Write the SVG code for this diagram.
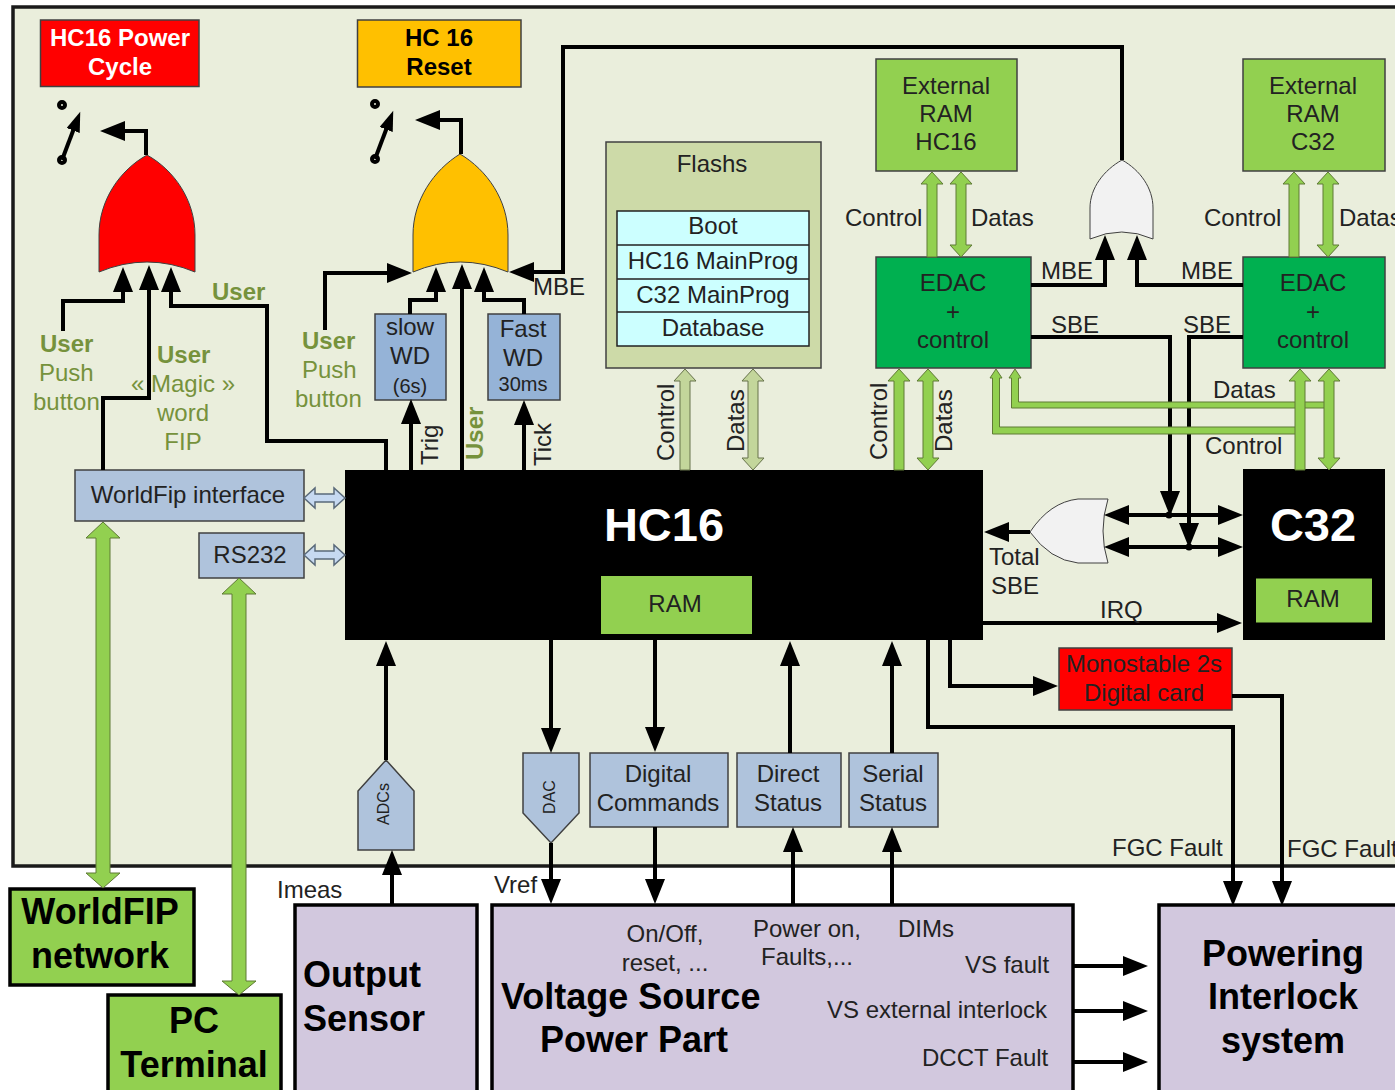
<svg xmlns="http://www.w3.org/2000/svg" width="1395" height="1090" viewBox="0 0 1395 1090">
<style>
text{font-family:"Liberation Sans",Arial,sans-serif;font-size:24px;fill:#222}
.m{text-anchor:middle}
.b{font-weight:bold;fill:#000}
.big{font-size:36px}
.huge{font-size:47px;fill:#fff}
.wb{font-weight:bold;fill:#fff}
.ol{fill:#76923c}
.olb{fill:#76923c;font-weight:bold}
.sm{font-size:20px}
.xs{font-size:16px}
.n{stroke:#404040;stroke-width:1.5}
.g{stroke:#404040;stroke-width:1}
.blue{fill:#afc3dc}
.wd{fill:#95b3d7}
.green{fill:#92d050}
.lil{fill:#d2c8de;stroke:#000;stroke-width:3.5}
.w{fill:none;stroke:#000;stroke-width:4}
.pin{fill:none;stroke:#000;stroke-width:4}
.bus{fill:#92d050;stroke:#5f7a35;stroke-width:1}
.obus{fill:#c3d69b;stroke:#66724a;stroke-width:1}
.sbus{fill:#c6d9f1;stroke:#5a6a7a;stroke-width:1.5}
</style>
<defs>
<marker id="a" markerUnits="userSpaceOnUse" markerWidth="26" markerHeight="20" refX="16" refY="10" orient="auto-start-reverse"><path d="M0,0L25,10L0,20Z" fill="#000"/></marker>
<marker id="s" markerUnits="userSpaceOnUse" markerWidth="21" markerHeight="14" refX="8" refY="7" orient="auto"><path d="M0,0L20,7L0,14Z" fill="#000"/></marker>
</defs>
<rect width="1395" height="1090" fill="#fff"/>
<g id="panel"><rect x="13" y="7" width="1400" height="859" fill="#eaeedc" stroke="#1a1a1a" stroke-width="3.5"/></g>

<g id="power-cycle"><rect class="n" x="40.500" y="20" width="158.500" height="66.500" fill="#f00"/><text class="m wb" x="120" y="46">HC16 Power</text><text class="m wb" x="120" y="75">Cycle</text></g>
<g id="reset"><rect class="n" x="357.500" y="20" width="163.500" height="67" fill="#ffc000"/><text class="m b" x="439" y="46">HC 16</text><text class="m b" x="439" y="75">Reset</text></g>
<g id="switch-1"><circle class="pin" cx="62" cy="105" r="3"/><circle class="pin" cx="62" cy="160" r="3"/><path d="M62,160L76,123" class="w" marker-end="url(#s)"/></g>
<g id="switch-2"><circle class="pin" cx="375" cy="104" r="3"/><circle class="pin" cx="375" cy="159" r="3"/><path d="M375,159L389,122" class="w" marker-end="url(#s)"/></g>
<g id="gate-power"><path class="g" d="M147,155C120,170 99,200 99,235L99,272Q147,252 195,272L195,235C195,200 174,170 147,155Z" fill="#f00"/></g>
<g id="gate-reset"><path class="g" d="M460,154C434,170 413,200 413,235L413,272Q460,252 508,272L508,235C508,200 487,170 460,154Z" fill="#ffc000"/></g>
<g id="gate-mbe"><path class="g" d="M1122,160C1104,170 1090,188 1090,208L1090,239Q1122,225 1153,239L1153,208C1153,188 1140,170 1122,160Z" fill="#f2f2f2"/></g>
<g id="gate-sbe"><path class="g" d="M1030,532Q1050,502 1078,499L1108,499Q1098,531 1108,563L1078,563Q1050,560 1030,532Z" fill="#f2f2f2"/></g>
<g id="slow-wd"><rect class="n wd" x="375" y="314" width="71" height="86"/><text class="m" x="410" y="335">slow</text><text class="m" x="410" y="364">WD</text><text class="m sm" x="410" y="393">(6s)</text></g>
<g id="fast-wd"><rect class="n wd" x="488" y="314" width="72" height="86"/><text class="m" x="523" y="337">Fast</text><text class="m" x="523" y="366">WD</text><text class="m sm" x="523" y="391">30ms</text></g>
<g id="flashs"><rect class="n" x="606" y="142" width="215" height="226" fill="#cddaa8"/><text class="m" x="712" y="172">Flashs</text>
<rect x="617" y="211" width="192" height="135" fill="#cff" stroke="#222" stroke-width="1.500"/><path d="M617,245H809M617,279H809M617,312H809" stroke="#222" stroke-width="1.500"/>
<text class="m" x="713" y="234">Boot</text><text class="m" x="713" y="269">HC16 MainProg</text><text class="m" x="713" y="303">C32 MainProg</text><text class="m" x="713" y="336">Database</text></g>
<g id="ext-ram-hc16"><rect class="n green" x="876" y="59" width="141" height="112"/><text class="m" x="946" y="94">External</text><text class="m" x="946" y="122">RAM</text><text class="m" x="946" y="150">HC16</text></g>
<g id="ext-ram-c32"><rect class="n green" x="1243" y="59" width="142" height="112"/><text class="m" x="1313" y="94">External</text><text class="m" x="1313" y="122">RAM</text><text class="m" x="1313" y="150">C32</text></g>
<g id="edac-hc16"><rect class="n" x="876" y="257" width="155" height="111" fill="#00b050"/><text class="m" x="953" y="291">EDAC</text><text class="m" x="953" y="320">+</text><text class="m" x="953" y="348">control</text></g>
<g id="edac-c32"><rect class="n" x="1243" y="257" width="142" height="111" fill="#00b050"/><text class="m" x="1313" y="291">EDAC</text><text class="m" x="1313" y="320">+</text><text class="m" x="1313" y="348">control</text></g>
<g id="hc16"><rect x="345" y="470" width="638" height="170" fill="#000"/><text class="m huge b" style="fill:#fff" x="664" y="541">HC16</text><rect x="601" y="576" width="151" height="58" fill="#92d050"/><text class="m" x="675" y="612">RAM</text></g>
<g id="c32"><rect x="1243" y="469" width="142" height="171" fill="#000"/><text class="m huge b" style="fill:#fff" x="1313" y="541">C32</text><rect x="1256" y="578.500" width="116" height="44" fill="#92d050"/><text class="m" x="1313" y="607">RAM</text></g>
<g id="worldfip-interface"><rect class="n blue" x="75" y="470" width="229" height="51"/><text class="m" x="188" y="503">WorldFip interface</text></g>
<g id="rs232"><rect class="n blue" x="199" y="533" width="105" height="45"/><text class="m" x="250" y="563">RS232</text></g>
<g id="monostable"><rect class="n" x="1059" y="648" width="173" height="62" fill="#f00"/><text class="m" x="1144" y="672">Monostable 2s</text><text class="m" x="1144" y="701">Digital card</text></g>
<g id="adcs"><path class="n blue" d="M386,760L414,791V850H358V791Z"/><text class="m xs" transform="translate(389,804) rotate(-90)">ADCs</text></g>
<g id="dac"><path class="n blue" d="M523,753H579V813L551,843L523,813Z"/><text class="m xs" transform="translate(555,797) rotate(-90)">DAC</text></g>
<g id="digital-commands"><rect class="n blue" x="590" y="753" width="138" height="74"/><text class="m" x="658" y="782">Digital</text><text class="m" x="658" y="811">Commands</text></g>
<g id="direct-status"><rect class="n blue" x="737" y="753" width="104" height="74"/><text class="m" x="788" y="782">Direct</text><text class="m" x="788" y="811">Status</text></g>
<g id="serial-status"><rect class="n blue" x="849" y="753" width="89" height="74"/><text class="m" x="893" y="782">Serial</text><text class="m" x="893" y="811">Status</text></g>
<g id="worldfip-network"><rect x="10" y="889" width="184" height="96" fill="#92d050" stroke="#000" stroke-width="3.500"/><text class="m b big" x="100" y="924">WorldFIP</text><text class="m b big" x="100" y="968">network</text></g>
<g id="pc-terminal"><rect x="108" y="995" width="173" height="120" fill="#92d050" stroke="#000" stroke-width="3.500"/><text class="m b big" x="194" y="1033">PC</text><text class="m b big" x="194" y="1077">Terminal</text></g>
<g id="output-sensor"><rect class="lil" x="295" y="905" width="182" height="210"/><text class="b big" x="303" y="987">Output</text><text class="b big" x="303" y="1031">Sensor</text></g>
<g id="voltage-source"><rect class="lil" x="492" y="905" width="581" height="210"/><text class="b big" x="501" y="1009">Voltage Source</text><text class="m b big" x="634" y="1052">Power Part</text>
<text class="m" x="665" y="942">On/Off,</text><text class="m" x="665" y="971">reset, ...</text><text class="m" x="807" y="937">Power on,</text><text class="m" x="807" y="965">Faults,...</text><text x="898" y="937">DIMs</text><text x="965" y="973">VS fault</text><text x="827" y="1018">VS external interlock</text><text x="922" y="1066">DCCT Fault</text></g>
<g id="powering-interlock"><rect class="lil" x="1159" y="905" width="260" height="210"/><text class="m b big" x="1283" y="966">Powering</text><text class="m b big" x="1283" y="1009">Interlock</text><text class="m b big" x="1283" y="1053">system</text></g>

<g id="connectors">
<path class="w" d="M146,155V131H109" marker-end="url(#a)"/>
<path class="w" d="M461,154V120H424" marker-end="url(#a)"/>
<path class="w" d="M63,331V301H123V276" marker-end="url(#a)"/>
<path class="w" d="M103,470V398H149V274" marker-end="url(#a)"/>
<path class="w" d="M386,470V441H267V306H171V276" marker-end="url(#a)"/>
<path class="w" d="M325,330V273H403" marker-end="url(#a)"/>
<path class="w" d="M410,314V300H436V276" marker-end="url(#a)"/>
<path class="w" d="M462,470V273" marker-end="url(#a)"/>
<path class="w" d="M524,314V300H484V276" marker-end="url(#a)"/>
<path class="w" d="M1122,160V47H563V272H518" marker-end="url(#a)"/>
<path class="w" d="M411,470V408" marker-end="url(#a)"/>
<path class="w" d="M524,470V409" marker-end="url(#a)"/>
<path class="w" d="M1031,285H1105V244" marker-end="url(#a)"/>
<path class="w" d="M1243,285H1137V244" marker-end="url(#a)"/>
<path class="w" d="M1031,337H1170V507" marker-end="url(#a)"/>
<path class="w" d="M1243,337H1189V539" marker-end="url(#a)"/>
<path class="w" d="M1113,515H1234" marker-start="url(#a)" marker-end="url(#a)"/>
<path class="w" d="M1113,547H1234" marker-start="url(#a)" marker-end="url(#a)"/>
<circle cx="1169" cy="515" r="3.500"/><circle cx="1189" cy="547" r="3.500"/>
<path class="w" d="M1030,532H993" marker-end="url(#a)"/>
<path class="w" d="M983,623H1233" marker-end="url(#a)"/>
<path class="w" d="M950,640V686H1049" marker-end="url(#a)"/>
<path class="w" d="M928,640V727H1233V897" marker-end="url(#a)"/>
<path class="w" d="M1232,696H1282V897" marker-end="url(#a)"/>
<path class="w" d="M386,760V650" marker-end="url(#a)"/>
<path class="w" d="M392,905V859" marker-end="url(#a)"/>
<path class="w" d="M551,640V744" marker-end="url(#a)"/>
<path class="w" d="M551,843V895" marker-end="url(#a)"/>
<path class="w" d="M655,640V743" marker-end="url(#a)"/>
<path class="w" d="M655,827V895" marker-end="url(#a)"/>
<path class="w" d="M790,753V650" marker-end="url(#a)"/>
<path class="w" d="M793,905V836" marker-end="url(#a)"/>
<path class="w" d="M892,753V650" marker-end="url(#a)"/>
<path class="w" d="M892,905V836" marker-end="url(#a)"/>
<path class="w" d="M1073,966H1139" marker-end="url(#a)"/>
<path class="w" d="M1073,1011H1139" marker-end="url(#a)"/>
<path class="w" d="M1073,1062H1139" marker-end="url(#a)"/>
<polygon class="bus" points="103,522 120,538 110,538 110,873 120,873 103,888 86,873 96,873 96,538 86,538"/>
<polygon class="bus" points="239,578 256,594 246,594 246,981 256,981 239,995 222,981 232,981 232,594 222,594"/>
<polygon class="bus" points="927,257 927,184 921,184 932,172 943,184 937,184 937,257"/>
<polygon class="bus" points="961,172 972,184 966,184 966,245 972,245 961,257 950,245 956,245 956,184 950,184"/>
<polygon class="bus" points="1289,257 1289,184 1283,184 1294,172 1305,184 1299,184 1299,257"/>
<polygon class="bus" points="1328,172 1339,184 1333,184 1333,245 1339,245 1328,257 1317,245 1323,245 1323,184 1317,184"/>
<polygon class="bus" points="894,470 894,381 888,381 899,369 910,381 904,381 904,470"/>
<polygon class="bus" points="928,369 939,381 933,381 933,458 939,458 928,470 917,458 923,458 923,381 917,381"/>
<polygon class="bus" points="996,369 1002,378 999.500,378 999.500,427 1297,427 1297,434 992.500,434 992.500,378 990,378"/>
<polygon class="bus" points="1015,369 1021,378 1018.500,378 1018.500,402 1325,402 1325,408 1011.500,408 1011.500,378 1009,378"/>
<polygon class="bus" points="1295,470 1295,381 1289,381 1300,369 1311,381 1305,381 1305,470"/>
<polygon class="bus" points="1329,369 1340,381 1334,381 1334,458 1340,458 1329,470 1318,458 1324,458 1324,381 1318,381"/>
<polygon class="obus" points="680,470 680,381 674,381 685,369 696,381 690,381 690,470"/>
<polygon class="obus" points="753,369 764,381 758,381 758,458 764,458 753,470 742,458 748,458 748,381 742,381"/>
<polygon class="sbus" points="304,498 315,488 315,494 334,494 334,488 345,498 334,508 334,502 315,502 315,508"/>
<polygon class="sbus" points="304,555 315,545 315,551 334,551 334,545 345,555 334,565 334,559 315,559 315,565"/>
</g>

<g id="labels">
<text class="olb" x="212" y="300">User</text>
<text class="olb" x="40" y="352">User</text><text class="ol" x="39" y="381">Push</text><text class="ol" x="33" y="410">button</text>
<text class="olb" x="157" y="363">User</text><text class="m ol" x="183" y="392">« Magic »</text><text class="m ol" x="183" y="421">word</text><text class="m ol" x="183" y="450">FIP</text>
<text class="olb" x="302" y="349">User</text><text class="ol" x="302" y="378">Push</text><text class="ol" x="295" y="407">button</text>
<text x="533" y="295">MBE</text>
<text transform="translate(438,465) rotate(-90)">Trig</text>
<text class="olb" transform="translate(483,460) rotate(-90)">User</text>
<text transform="translate(551,466) rotate(-90)">Tick</text>
<text transform="translate(674,461) rotate(-90)">Control</text>
<text transform="translate(744,452) rotate(-90)">Datas</text>
<text transform="translate(887,460) rotate(-90)">Control</text>
<text transform="translate(952,452) rotate(-90)">Datas</text>
<text x="845" y="226">Control</text><text x="971" y="226">Datas</text>
<text x="1204" y="226">Control</text><text x="1339" y="226">Datas</text>
<text x="1041" y="279">MBE</text><text x="1181" y="279">MBE</text>
<text x="1051" y="333">SBE</text><text x="1183" y="333">SBE</text>
<text x="1213" y="398">Datas</text><text x="1205" y="454">Control</text>
<text x="989" y="565">Total</text><text x="991" y="594">SBE</text>
<text x="1100" y="618">IRQ</text>
<text x="277" y="898">Imeas</text><text x="494" y="893">Vref</text>
<text x="1112" y="856">FGC Fault</text><text x="1287" y="857">FGC Fault</text>
</g>
</svg>
